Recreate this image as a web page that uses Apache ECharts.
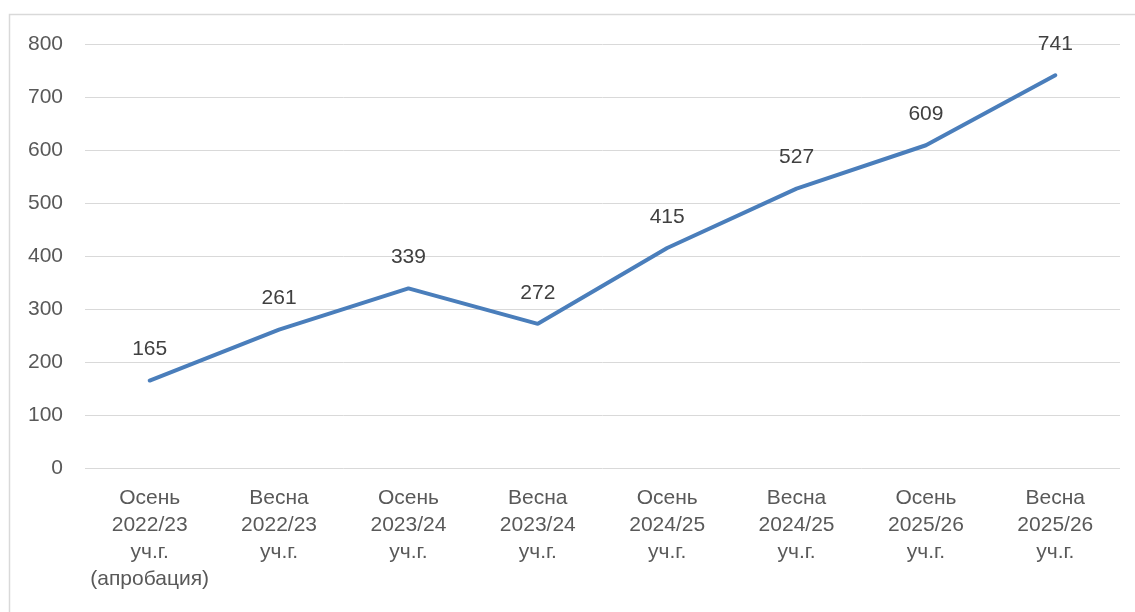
<!DOCTYPE html>
<html>
<head>
<meta charset="utf-8">
<script src="https://cdn.jsdelivr.net/npm/echarts@6/dist/echarts.min.js"></script>
<style>
  html, body { margin: 0; padding: 0; background: #fff; }
  #chart { width: 1135px; height: 612px; }
</style>
</head>
<body>
<div id="chart"></div>
<script>
const categories = [
  'Осень\n2022/23\nуч.г.\n(апробация)',
  'Весна\n2022/23\nуч.г.',
  'Осень\n2023/24\nуч.г.',
  'Весна\n2023/24\nуч.г.',
  'Осень\n2024/25\nуч.г.',
  'Весна\n2024/25\nуч.г.',
  'Осень\n2025/26\nуч.г.',
  'Весна\n2025/26\nуч.г.'
];
const values = [165, 261, 339, 272, 415, 527, 609, 741];
const yMin = 0;
const yMax = 800;
const yStep = 100;

const font = '"Liberation Sans", "Noto Sans", sans-serif';

const myChart = echarts.init(document.getElementById('chart'));
myChart.setOption({
  animation: false,
  graphic: [{
    type: 'rect',
    shape: {x: 9.5, y: 14.5, width: 1140, height: 620},
    style: {fill: 'none', stroke: '#d9d9d9', lineWidth: 1.5}
  }],
  grid: {left: 85, right: 15, top: 44, bottom: 144},
  xAxis: {
    type: 'category',
    data: categories,
    boundaryGap: true,
    axisTick: {show: false},
    axisLine: {show: false},
    axisLabel: {
      interval: 0,
      margin: 17,
      color: '#595959',
      fontFamily: font,
      fontSize: 21,
      lineHeight: 27,
      align: 'center'
    }
  },
  yAxis: {
    type: 'value',
    min: yMin,
    max: yMax,
    interval: yStep,
    axisLine: {show: false},
    axisTick: {show: false},
    splitLine: {lineStyle: {color: '#d9d9d9', width: 1}},
    axisLabel: {
      margin: 22,
      color: '#595959',
      fontFamily: font,
      fontSize: 21
    }
  },
  series: [{
    type: 'line',
    data: values,
    symbol: 'circle',
    symbolSize: 1,
    itemStyle: {color: '#4a7ebb'},
    lineStyle: {color: '#4a7ebb', width: 4, cap: 'round'},
    label: {
      show: true,
      position: 'top',
      distance: 20,
      color: '#404040',
      fontFamily: font,
      fontSize: 21
    }
  }]
});
</script>
</body>
</html>
